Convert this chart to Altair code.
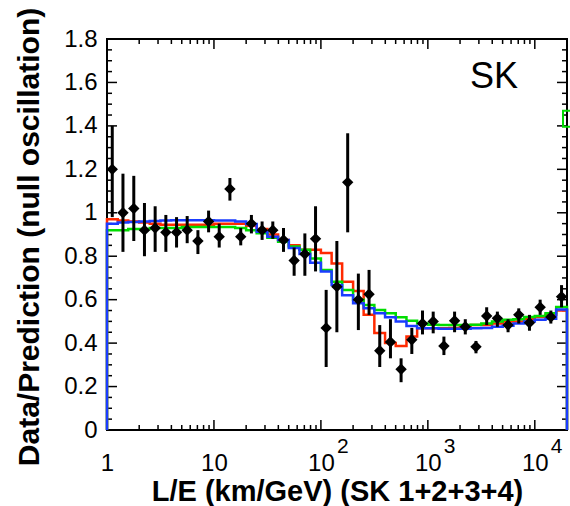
import altair as alt
import pandas as pd

# ---- data ----
le = [1.12, 1.41, 1.78, 2.24, 2.82, 3.55, 4.47, 5.62, 7.08, 8.91,
      11.2, 14.1, 17.8, 22.4, 28.2, 35.5, 44.7, 56.2, 70.8, 89.1,
      112, 141, 178, 224, 282, 355, 447, 562, 708, 891,
      1122, 1413, 1778, 2239, 2818, 3548, 4467, 5623, 7079, 8913,
      11220, 14125, 17783]
ratio = [1.20, 1.00, 1.02, 0.92, 0.93, 0.91, 0.91, 0.92, 0.87, 0.96,
         0.89, 1.11, 0.89, 0.95, 0.92, 0.92, 0.875, 0.78, 0.81, 0.88,
         0.47, 0.66, 1.14, 0.60, 0.625, 0.365, 0.405, 0.28, 0.415, 0.49,
         0.50, 0.387, 0.503, 0.475, 0.383, 0.525, 0.514, 0.483, 0.53, 0.494,
         0.565, 0.52, 0.614]
err_lo = [0.98, 0.82, 0.87, 0.80, 0.82, 0.82, 0.84, 0.86, 0.81, 0.91,
          0.84, 1.056, 0.85, 0.905, 0.875, 0.88, 0.82, 0.71, 0.71, 0.73,
          0.29, 0.45, 0.91, 0.46, 0.53, 0.29, 0.33, 0.22, 0.35, 0.44,
          0.445, 0.345, 0.45, 0.44, 0.353, 0.483, 0.475, 0.45, 0.49, 0.457,
          0.53, 0.49, 0.565]
err_hi = [1.40, 1.18, 1.17, 1.045, 1.03, 0.99, 0.98, 0.985, 0.92, 1.01,
          0.95, 1.16, 0.93, 0.99, 0.96, 0.96, 0.93, 0.84, 0.905, 1.03,
          0.645, 0.87, 1.366, 0.72, 0.737, 0.483, 0.51, 0.33, 0.47, 0.55,
          0.545, 0.43, 0.545, 0.51, 0.41, 0.565, 0.545, 0.51, 0.56, 0.53,
          0.60, 0.55, 0.667]

edges = [1, 1.26, 1.58, 2.0, 2.51, 3.16, 3.98, 5.01, 6.31, 7.94,
         10, 12.6, 15.8, 20.0, 25.1, 31.6, 39.8, 50.1, 63.1, 79.4,
         100, 126, 158, 200, 251, 316, 398, 501, 631, 794,
         1000, 1259, 1585, 1995, 2512, 3162, 3981, 5012, 6310, 7943,
         10000, 12589, 15849, 20000]
red = [0.97, 0.965, 0.96, 0.955, 0.95, 0.945, 0.945, 0.945, 0.945, 0.945,
       0.95, 0.95, 0.95, 0.94, 0.925, 0.90, 0.875, 0.85, 0.83, 0.83,
       0.815, 0.767, 0.683, 0.64, 0.53, 0.446, 0.40, 0.387, 0.43, 0.468,
       0.468, 0.468, 0.47, 0.475, 0.483, 0.483, 0.49, 0.50, 0.50, 0.51,
       0.52, 0.53, 0.55]
green = [0.92, 0.92, 0.925, 0.925, 0.93, 0.93, 0.93, 0.935, 0.935, 0.935,
         0.935, 0.935, 0.93, 0.92, 0.906, 0.885, 0.867, 0.845, 0.83, 0.79,
         0.737, 0.683, 0.645, 0.60, 0.575, 0.553, 0.537, 0.519, 0.503, 0.49,
         0.485, 0.483, 0.483, 0.483, 0.485, 0.49, 0.50, 0.508, 0.51, 0.52,
         0.525, 0.537, 0.566]
blue = [0.95, 0.955, 0.958, 0.96, 0.962, 0.964, 0.966, 0.966, 0.966, 0.966,
        0.965, 0.965, 0.96, 0.948, 0.913, 0.89, 0.875, 0.838, 0.81, 0.77,
        0.73, 0.668, 0.62, 0.583, 0.56, 0.537, 0.519, 0.50, 0.479, 0.468,
        0.468, 0.466, 0.466, 0.466, 0.468, 0.47, 0.475, 0.48, 0.49, 0.50,
        0.508, 0.512, 0.555]

x_major = [1, 10, 100, 1000, 10000]
x_minor = [2, 3, 4, 5, 6, 7, 8, 9,
           20, 30, 40, 50, 60, 70, 80, 90,
           200, 300, 400, 500, 600, 700, 800, 900,
           2000, 3000, 4000, 5000, 6000, 7000, 8000, 9000]
x_exp_vals = [100, 1000, 10000]
x_exp_text = ["2", "3", "4"]
y_major = [0, 0.2, 0.4, 0.6, 0.8, 1.0, 1.2, 1.4, 1.6, 1.8]
y_minor = [0.05, 0.1, 0.15, 0.25, 0.3, 0.35, 0.45, 0.5, 0.55,
           0.65, 0.7, 0.75, 0.85, 0.9, 0.95, 1.05, 1.1, 1.15,
           1.25, 1.3, 1.35, 1.45, 1.5, 1.55, 1.65, 1.7, 1.75]
marker_x = [20000]
marker_y = [1.433]

W, H = 460, 391
FONT = "Liberation Sans"

xscale = alt.Scale(type="log", domain=[1, 20000], nice=False)
yscale = alt.Scale(domain=[0, 1.8], nice=False, zero=False)

xaxis = alt.Axis(values=x_major, labelExpr="datum.value == 1 ? '1' : '10'",
                 ticks=False, grid=False, domain=False, labelFlush=False,
                 labelFont=FONT, labelFontSize=24, labelColor="black",
                 labelBaseline="alphabetic", labelPadding=40, labelOverlap=False,
                 title="L/E (km/GeV) (SK 1+2+3+4)", titleFont=FONT,
                 titleFontSize=29, titleFontWeight="bold", titleColor="black",
                 titleX=W / 2, titleY=70, titleBaseline="alphabetic",
                 titleAlign="center")
yaxis = alt.Axis(values=y_major,
                 labelExpr="datum.value == 0 ? '0' : datum.value == 1 ? '1' : format(datum.value, '.1f')",
                 ticks=False, grid=False, domain=False,
                 labelFont=FONT, labelFontSize=24, labelColor="black",
                 labelPadding=10, labelOverlap=False,
                 title="Data/Prediction (null oscillation)", titleFont=FONT,
                 titleFontSize=30, titleFontWeight="bold", titleColor="black",
                 titleX=-78, titleY=H / 2 + 2, titleBaseline="middle",
                 titleAlign="center", titleAngle=270)


def X(field):
    return alt.X(field, type="quantitative", scale=xscale, axis=xaxis)


def Y(field):
    return alt.Y(field, type="quantitative", scale=yscale, axis=yaxis)


pts = pd.DataFrame({"le": le, "r": ratio, "lo": err_lo, "hi": err_hi})


def step_df(vals):
    xs = [edges[0]] + edges[:-1] + [edges[-1], edges[-1]]
    ys = [0] + vals + [vals[-1], 0]
    return pd.DataFrame({"x": xs, "y": ys, "i": list(range(len(xs)))})


def step_layer(vals, color):
    return alt.Chart(step_df(vals)).mark_line(
        interpolate="step-after", color=color, strokeWidth=2.5
    ).encode(x=X("x"), y=Y("y"), order=alt.Order("i:Q"))


xmaj = pd.DataFrame({"v": x_major})
xmin = pd.DataFrame({"v": x_minor})
ymaj = pd.DataFrame({"v": y_major})
ymin = pd.DataFrame({"v": y_minor})

tick_layers = []
for df, ln in [(xmaj, 10), (xmin, 5)]:
    tick_layers.append(alt.Chart(df).mark_rule(color="black", strokeWidth=1.5).encode(
        x=X("v"), y=alt.value(H), y2=alt.value(H - ln)))
    tick_layers.append(alt.Chart(df).mark_rule(color="black", strokeWidth=1.5).encode(
        x=X("v"), y=alt.value(0), y2=alt.value(ln)))
for df, ln in [(ymaj, 10), (ymin, 5)]:
    tick_layers.append(alt.Chart(df).mark_rule(color="black", strokeWidth=1.5).encode(
        y=Y("v"), x=alt.value(0), x2=alt.value(ln)))
    tick_layers.append(alt.Chart(df).mark_rule(color="black", strokeWidth=1.5).encode(
        y=Y("v"), x=alt.value(W), x2=alt.value(W - ln)))

exps = alt.Chart(pd.DataFrame({"v": x_exp_vals, "t": x_exp_text})).mark_text(
    align="left", baseline="alphabetic", dx=16, font=FONT, fontSize=21, color="black"
).encode(x=X("v"), y=alt.value(414), text="t:N")

bars = alt.Chart(pts).mark_rule(color="black", strokeWidth=3).encode(
    x=X("le"), y=Y("lo"), y2="hi")
dots = alt.Chart(pts).mark_point(shape="diamond", filled=True, color="black",
                                 size=130, opacity=1).encode(x=X("le"), y=Y("r"))

marker = alt.Chart(pd.DataFrame({"x": marker_x, "y": marker_y})).mark_point(
    shape="M-0.5,-1L0.5,-1L0.5,1L-0.5,1Z", filled=False, color="#00dd00",
    strokeWidth=2, size=256, opacity=1).encode(x=X("x"), y=Y("y"))

sk = alt.Chart(pd.DataFrame({"t": ["SK"]})).mark_text(
    align="left", baseline="alphabetic", font=FONT, fontSize=36, color="black"
).encode(x=alt.value(363), y=alt.value(49), text="t:N")

chart = alt.layer(
    *tick_layers,
    step_layer(red, "#ff2a00"),
    step_layer(green, "#00dd00"),
    step_layer(blue, "#1a3cff"),
    bars, dots, marker, exps, sk,
).properties(
    width=W, height=H,
    autosize=alt.AutoSizeParams(type="none"),
    padding={"left": 107, "top": 39, "right": 3, "bottom": 76},
    background="white",
).configure_view(stroke="black", strokeWidth=2)

chart.save("out.html", embed_options={"renderer": "svg", "actions": False})
